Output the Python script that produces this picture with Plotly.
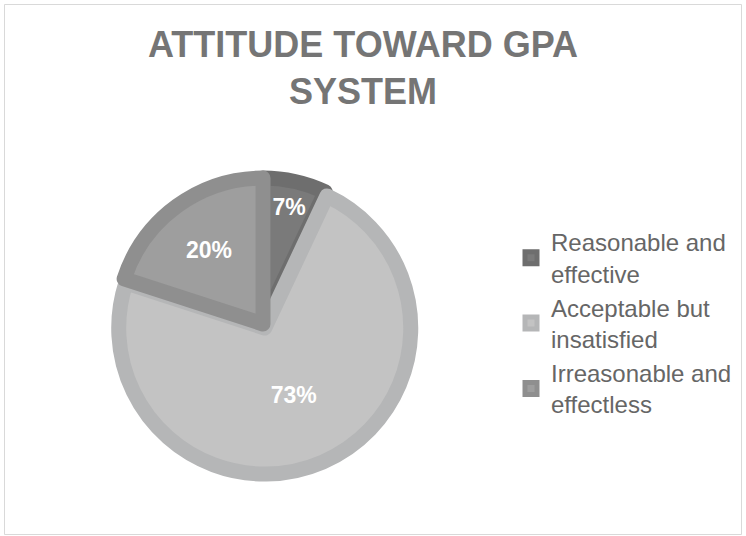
import plotly.graph_objects as go

labels = ["Reasonable and<br>effective", "Acceptable but<br>insatisfied", "Irreasonable and<br>effectless"]
values = [7, 73, 20]
fill_colors = ["#7a7a7a", "#c3c3c3", "#9e9e9e"]
border_colors = ["#6e6e6e", "#b5b6b7", "#8f8f8f"]
pulls = [0, 0.03, 0]
title_text = "ATTITUDE TOWARD GPA<br>SYSTEM"

W, H = 746, 536
cx, cy = 263, 324
half = 150.4

fig = go.Figure(go.Pie(
    labels=labels,
    values=values,
    sort=False,
    direction="clockwise",
    rotation=0,
    pull=pulls,
    marker=dict(colors=fill_colors, line=dict(color=border_colors, width=15)),
    textinfo="percent",
    textposition="inside",
    insidetextorientation="horizontal",
    textfont=dict(family="Liberation Sans, Arial, sans-serif", size=23, color="white", weight="bold"),
    domain=dict(x=[(cx - half) / W, (cx + half) / W], y=[(H - cy - half) / H, (H - cy + half) / H]),
    hoverinfo="label+percent",
))

fig.update_layout(
    width=W, height=H,
    margin=dict(l=0, r=0, t=0, b=0),
    paper_bgcolor="white",
    title=dict(
        text=title_text,
        x=363 / W, xanchor="center",
        y=1 - 57 / H, yanchor="top",
        font=dict(family="Liberation Sans, Arial, sans-serif", size=36, color="#757575", weight="bold"),
    ),
    legend=dict(
        x=511 / W, xanchor="left",
        y=1 - 220 / H, yanchor="top",
        font=dict(family="Liberation Sans, Arial, sans-serif", size=24, color="#666666"),
        bgcolor="rgba(0,0,0,0)",
    ),
    shapes=[dict(type="rect", xref="paper", yref="paper",
                 x0=4.5 / W, x1=741.5 / W, y0=1 - 534.5 / H, y1=1 - 4.5 / H,
                 line=dict(color="#d9d9d9", width=1), fillcolor="rgba(0,0,0,0)", layer="below")],
)

fig.write_html("out.html")
